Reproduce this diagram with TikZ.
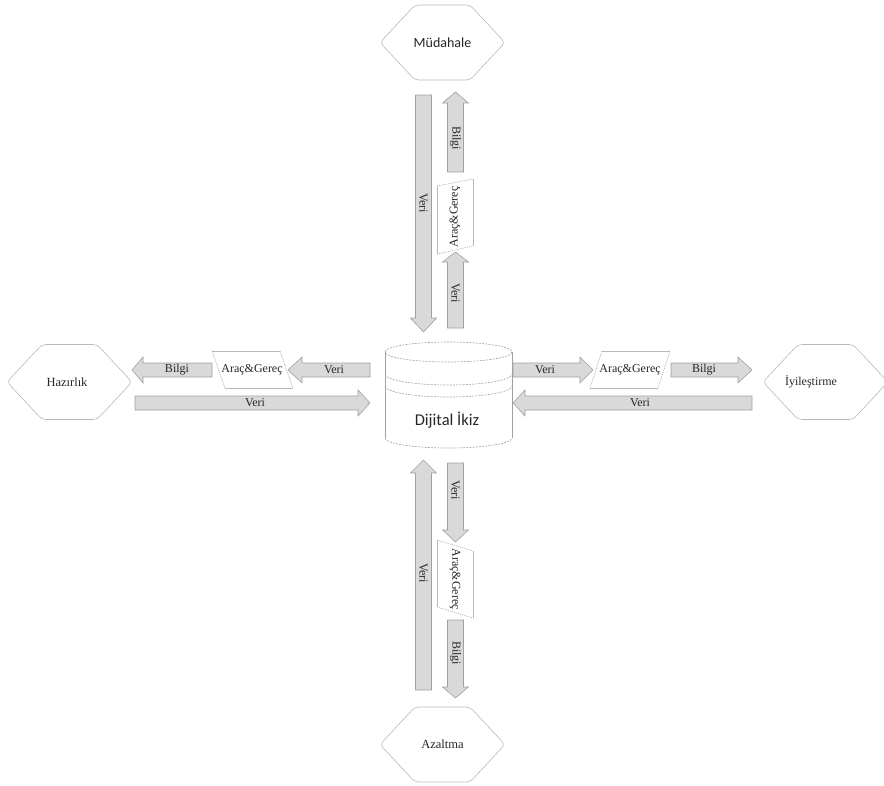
\documentclass[tikz,border=0pt]{standalone}
\usepackage{fontspec}
\setmainfont{Liberation Serif}
\newfontfamily\calib{Carlito}
\usetikzlibrary{calc}
\definecolor{arrfill}{HTML}{D9D9D9}
\definecolor{arrline}{HTML}{A0A0A0}
\definecolor{hexline}{HTML}{B8B8B8}
\definecolor{txt}{HTML}{262626}
\tikzset{
  arr/.style={fill=arrfill, draw=arrline, line width=0.6pt, line join=miter},
  lab/.style={font=\fontsize{12}{12}\selectfont, text=txt, inner sep=0pt},
  hex/.style={draw=hexline, line width=0.6pt, rounded corners=4pt},
  para/.style={draw=hexline, line width=0.4pt},
  paradot/.style={draw=arrline, line width=0.5pt, dash pattern=on 1.2pt off 1pt},
  cyl/.style={draw=arrline, line width=0.6pt},
  cyldash/.style={draw=arrline, line width=0.6pt, dash pattern=on 2pt off 1.2pt},
}
% horizontal block arrow: name, y, tail, base, tip, label x, text
\newcommand{\harrow}[7]{%
  \draw[arr] (#3,#2-7) -- (#4,#2-7) -- (#4,#2-13) -- (#5,#2) -- (#4,#2+13) -- (#4,#2+7) -- (#3,#2+7) -- cycle;
  \node[lab] (#1) at (#6,#2) {#7};}
% vertical block arrow: name, x, tail, base, tip, label y, text, rotation
\newcommand{\varrow}[8]{%
  \draw[arr] (#2-8,#3) -- (#2-8,#4) -- (#2-13,#4) -- (#2,#5) -- (#2+13,#4) -- (#2+8,#4) -- (#2+8,#3) -- cycle;
  \node[lab, rotate=#8] (#1) at (#2,#6) {#7};}
% hexagon: name, cx, cy, text x, text, font
\newcommand{\hexa}[6]{%
  \draw[hex] (#2-62.5,#3) -- (#2-27.5,#3-37.5) -- (#2+27.5,#3-37.5) -- (#2+62.5,#3) -- (#2+27.5,#3+37.5) -- (#2-27.5,#3+37.5) -- cycle;
  \node[lab, font=#6] (#1) at (#4,#3) {#5};}
\begin{document}
\begin{tikzpicture}[x=1pt,y=-1pt]
\useasboundingbox (0,0) rectangle (884,785);

% hexagons
\hexa{mud}{442.5}{42.5}{442.5}{Müdahale}{\calib\fontsize{14}{14}\selectfont}
\hexa{haz}{69.5}{382}{67}{Hazırlık}{\fontsize{12.5}{12.5}\selectfont}
\hexa{iyi}{825.5}{382}{811}{İyileştirme}{\fontsize{12}{12}\selectfont}
\hexa{aza}{442.5}{744.5}{442.5}{Azaltma}{\fontsize{12.5}{12.5}\selectfont}

% cylinder
\draw[cyl] (385,352) -- (385,438);
\draw[cyl] (512,352) -- (512,438);
\draw[cyldash] (448.5,352) ellipse [x radius=63.5, y radius=10];
\draw[cyldash] (385,374) arc[start angle=180, end angle=360, x radius=63.5, y radius=-11];
\draw[cyldash] (385,386) arc[start angle=180, end angle=360, x radius=63.5, y radius=-11];
\draw[cyldash] (385,438) arc[start angle=180, end angle=360, x radius=63.5, y radius=-10];
\node[lab, font=\calib\fontsize{16.5}{16.5}\selectfont] (dt) at (447,420) {Dijital İkiz};

% left side
\harrow{lb}{370}{212}{143}{132}{177}{Bilgi}
\harrow{lv}{370}{370}{302}{288}{334}{Veri}
\draw[para] (212,351) -- (280,351);
\draw[para] (225,388) -- (293,388);
\draw[paradot] (212,351) -- (225,388);
\draw[paradot] (280,351) -- (293,388);
\node[lab] (lag) at (252,370) {Araç\&Gereç};
\harrow{lv2}{403}{135}{358}{370}{255}{Veri}

% right side
\harrow{rv}{370}{513}{580}{593}{545}{Veri}
\harrow{rb}{370}{671}{738}{752}{704}{Bilgi}
\draw[para] (602,351) -- (670,351);
\draw[para] (590,388) -- (658,388);
\draw[paradot] (602,351) -- (590,388);
\draw[paradot] (670,351) -- (658,388);
\node[lab] (rag) at (630,370) {Araç\&Gereç};
\harrow{rv2}{403}{752}{525}{513}{640}{Veri}

% top
\varrow{tv}{423.5}{95}{318}{332}{203}{Veri}{-90}
\varrow{tb}{455.5}{172}{103}{92}{138}{Bilgi}{-90}
\varrow{tv2}{455.5}{328}{262}{252}{293}{Veri}{-90}
\draw[para] (437,186) -- (437,254);
\draw[para] (473,179) -- (473,246);
\draw[paradot] (437,186) -- (473,179);
\draw[paradot] (437,254) -- (473,246);
\node[lab, rotate=90] (tag) at (455,217) {Araç\&Gereç};

% bottom
\varrow{bv}{423.5}{690}{473}{460}{573}{Veri}{-90}
\varrow{bv2}{455.5}{463}{530}{542}{490}{Veri}{-90}
\varrow{bb}{455.5}{620}{687}{698}{653}{Bilgi}{-90}
\draw[para] (437,540) -- (437,607);
\draw[para] (473,551) -- (473,618);
\draw[paradot] (437,540) -- (473,551);
\draw[paradot] (437,607) -- (473,618);
\node[lab, rotate=-90] (bag) at (455,579) {Araç\&Gereç};
\end{tikzpicture}
\end{document}
